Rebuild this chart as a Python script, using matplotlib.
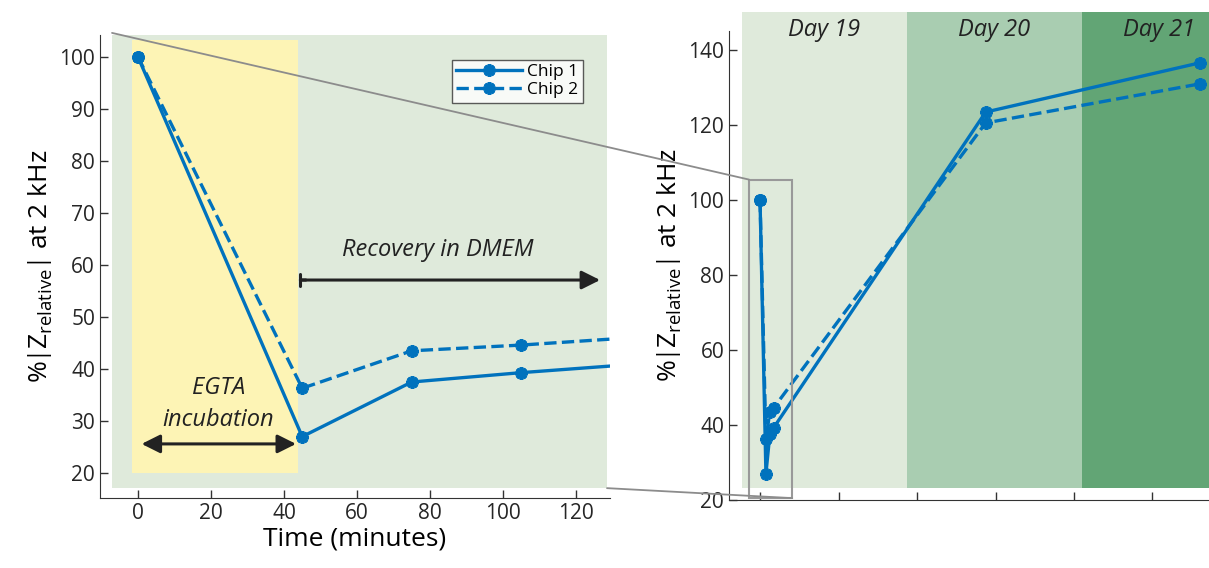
import numpy as np
import matplotlib
matplotlib.use('Agg')
import matplotlib.pyplot as plt
from matplotlib.patches import Rectangle, ConnectionPatch

plt.rcParams['font.family'] = ['Open Sans', 'DejaVu Sans']
plt.rcParams['mathtext.fontset'] = 'custom'
plt.rcParams['mathtext.rm'] = 'Open Sans'
plt.rcParams['mathtext.it'] = 'Open Sans:italic'

# data: time in minutes, % |Z relative| at 2 kHz
time_min = np.array([0, 45, 75, 105, 1725, 3360])
chip1 = np.array([100, 27, 37.5, 39.3, 123.4, 136.5])
chip2 = np.array([100, 36.3, 43.5, 44.6, 120.5, 130.9])

days = ['Day 19', 'Day 20', 'Day 21']
day_edges_h = [-2.3, 18.7, 41.0, 60.6]
day_colors = ['#dfeadb', '#a9cdb1', '#62a575']

blue = '#0072bd'
mk = dict(marker=(8, 2, 0), markersize=9, markeredgewidth=2.6)

fig = plt.figure(figsize=(12.09, 5.68), dpi=100)
ax1 = fig.add_axes([0.0827, 0.1232, 0.4218, 0.8152])
ax2 = fig.add_axes([0.603, 0.1197, 0.397, 0.8257])

# ---- left panel: first two hours
ax1.add_patch(Rectangle((-7.1, 17.1), 135.6, 87.5, color='#dfeadb', lw=0, zorder=0))
ax1.add_patch(Rectangle((-1.6, 20), 45.4, 83.3, color='#fdf4b5', lw=0, zorder=0))
ax1.plot(time_min, chip1, '-', color=blue, lw=2.4, label='Chip 1', **mk)
ax1.plot(time_min, chip2, '--', color=blue, lw=2.4, label='Chip 2', **mk)
ax1.set_xlim(-10.4, 129.3)
ax1.set_ylim(15.2, 104.2)
ax1.set_xticks(range(0, 121, 20))
ax1.set_yticks(range(20, 101, 10))
ax1.set_xlabel('Time (minutes)', fontsize=19, labelpad=2)
ax1.set_ylabel(r'%$\left|\mathrm{Z_{relative}}\right|$ at 2 kHz', fontsize=19, labelpad=4)

ax1.annotate('', xy=(1, 25.6), xytext=(43.3, 25.6),
             arrowprops=dict(arrowstyle='<|-|>', color='#222222', lw=2.2,
                             mutation_scale=28, shrinkA=0, shrinkB=0))
ax1.text(22, 36.3, 'EGTA', style='italic', fontsize=17, color='#222222', ha='center', va='center')
ax1.text(22, 30.2, 'incubation', style='italic', fontsize=17, color='#222222', ha='center', va='center')
ax1.annotate('', xy=(126.6, 57.1), xytext=(44.5, 57.1),
             arrowprops=dict(arrowstyle='-|>', color='#222222', lw=2.2,
                             mutation_scale=28, shrinkA=0, shrinkB=0))
ax1.annotate('', xy=(46, 57.1), xytext=(44.5, 57.1),
             arrowprops=dict(arrowstyle='|-|, widthA=0.45, widthB=0', color='#222222', lw=2.2,
                             shrinkA=0, shrinkB=0))
ax1.text(82, 62.9, 'Recovery in DMEM', style='italic', fontsize=17, color='#222222',
         ha='center', va='center')

leg = ax1.legend(loc='upper left', bbox_to_anchor=(0.69, 0.946), fontsize=12.5,
                 frameon=True, fancybox=False, edgecolor='#333333', handlelength=3.8,
                 handletextpad=0.3, borderpad=0.25, labelspacing=0.1, borderaxespad=0)
leg.get_frame().set_linewidth(1.0)

# ---- right panel: full culture in hours
time_h = time_min / 60
for i, d in enumerate(days):
    ax2.add_patch(Rectangle((day_edges_h[i], 23.2), day_edges_h[i + 1] - day_edges_h[i], 127,
                            color=day_colors[i], lw=0, zorder=0, clip_on=False))
    ax2.text((day_edges_h[i] + day_edges_h[i + 1]) / 2, 145.3, d, style='italic', fontsize=17,
             color='#222222', ha='center', va='center', clip_on=False)
ax2.plot(time_h, chip1, '-', color=blue, lw=2.4, **mk)
ax2.plot(time_h, chip2, '--', color=blue, lw=2.4, **mk)
ax2.add_patch(Rectangle((-1.4, 20.5), 5.5, 84.9, fill=False, edgecolor='#999999', lw=1.5,
                        clip_on=False, zorder=4))
ax2.set_xlim(-3.95, 57.2)
ax2.set_ylim(20, 145)
ax2.set_xticks(range(0, 51, 10))
ax2.set_xticklabels([])
ax2.set_yticks(range(20, 141, 20))
ax2.set_ylabel(r'%$\left|\mathrm{Z_{relative}}\right|$ at 2 kHz', fontsize=19, labelpad=4)

for ax in (ax1, ax2):
    ax.spines['top'].set_visible(False)
    ax.spines['right'].set_visible(False)
    ax.spines['left'].set_color('#333333')
    ax.spines['bottom'].set_color('#333333')
    ax.tick_params(direction='in', length=6, width=1, colors='#333333', labelsize=15,
                   labelcolor='#262626')

# zoom connector lines
for xa, ya, xb, yb in [(-7.1, 104.6, -1.4, 105.4), (128.5, 17.1, 4.1, 20.5)]:
    con = ConnectionPatch(xyA=(xa, ya), coordsA=ax1.transData, xyB=(xb, yb),
                          coordsB=ax2.transData, color='#8c8c8c', lw=1.3, zorder=5)
    fig.add_artist(con)

fig.savefig('out.png', dpi=100)
